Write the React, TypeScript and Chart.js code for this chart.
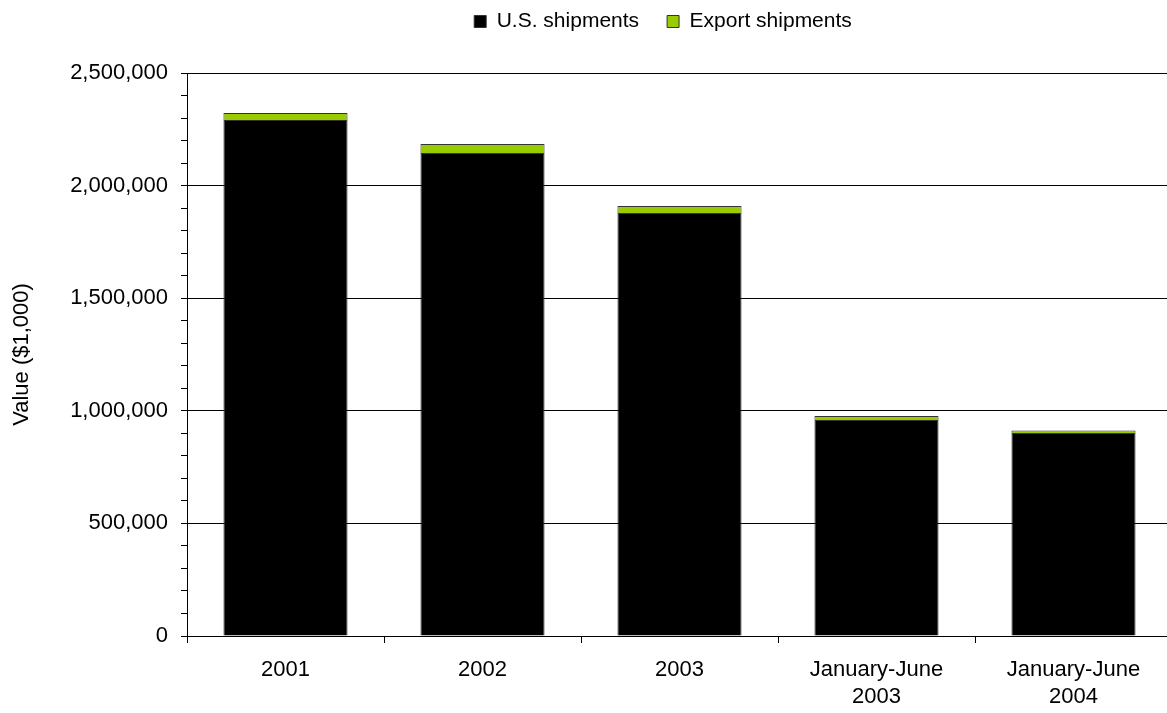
import React, { useEffect, useRef } from "react";
import { Chart, registerables } from "chart.js";

Chart.register(...registerables);

const categories: (string | string[])[] = ["2001", "2002", "2003", ["January-June", "2003"], ["January-June", "2004"]];
const usShipments = [2291000, 2145000, 1878000, 959000, 901000];
const exportShipments = [31000, 40000, 31000, 18000, 12000];
const yMax = 2500000;
const yStep = 100000;
const yLabelStep = 500000;

const legendTweak = {
  id: "legendTweak",
  beforeUpdate(chart: any) {
    const lg = chart.legend;
    if (lg && !lg.__patched) {
      const fit = lg.fit.bind(lg);
      lg.fit = function () {
        fit();
        this.height += 31;
      };
      lg.__patched = true;
    }
  },
  afterLayout(chart: any) {
    const lg = chart.legend;
    if (lg) {
      lg.left += 77;
      lg.right += 77;
    }
  },
};

export default function App() {
  const ref = useRef<HTMLCanvasElement | null>(null);
  useEffect(() => {
    document.body.style.margin = "0";
    const ctx = ref.current!;
    const family = "'Liberation Sans', Arial, sans-serif";
    const font = { family, size: 22 };
    const legendFont = { family, size: 21 };
    const chart = new Chart(ctx, {
      type: "bar",
      plugins: [legendTweak],
      data: {
        labels: categories as any,
        datasets: [
          {
            label: "U.S. shipments",
            data: usShipments,
            backgroundColor: "#000000",
            borderColor: "#333333",
            borderWidth: 1,
          },
          {
            label: "Export shipments",
            data: exportShipments,
            backgroundColor: "#99CC00",
            borderColor: "#333333",
            borderWidth: 1,
          },
        ],
      },
      options: {
        responsive: false,
        animation: false,
        layout: { padding: { top: -17, left: 0, right: 0, bottom: 0 } },
        plugins: {
          legend: {
            position: "top",
            labels: {
              font: legendFont,
              color: "#000",
              boxWidth: 12,
              boxHeight: 12,
              padding: 28,
            },
          },
          tooltip: { enabled: false },
        },
        datasets: {
          bar: { categoryPercentage: 1, barPercentage: 0.63 },
        } as any,
        scales: {
          x: {
            stacked: true,
            offset: true,
            grid: {
              offset: true,
              drawOnChartArea: false,
              color: "#000",
              tickLength: 7,
              tickColor: "#000",
            },
            border: { color: "#000", width: 1 },
            ticks: { font, color: "#000", maxRotation: 0, autoSkip: false, padding: 14 },
            afterFit: (s: any) => {
              s.height = 77;
            },
          },
          y: {
            stacked: true,
            min: 0,
            max: yMax,
            border: { color: "#000", width: 1 },
            grid: {
              color: (c: any) => (c.tick && c.tick.value % yLabelStep === 0 ? "#000" : "rgba(0,0,0,0)"),
              tickColor: "#000",
              tickLength: 6,
            },
            ticks: {
              stepSize: yStep,
              autoSkip: false,
              font,
              color: "#000",
              padding: 13,
              callback: (v: any) => (Number(v) % yLabelStep === 0 ? Number(v).toLocaleString("en-US") : ""),
            },
            title: {
              display: true,
              text: "Value ($1,000)",
              font,
              color: "#000",
              padding: { top: 9, bottom: 0 },
            },
            afterFit: (s: any) => {
              s.width = 187;
            },
          },
        },
      },
    });
    return () => chart.destroy();
  }, []);
  return (
    <div style={{ width: 1167, height: 713, overflow: "hidden", background: "#fff" }}>
      <canvas ref={ref} width={1172} height={713} style={{ display: "block" }} />
    </div>
  );
}
